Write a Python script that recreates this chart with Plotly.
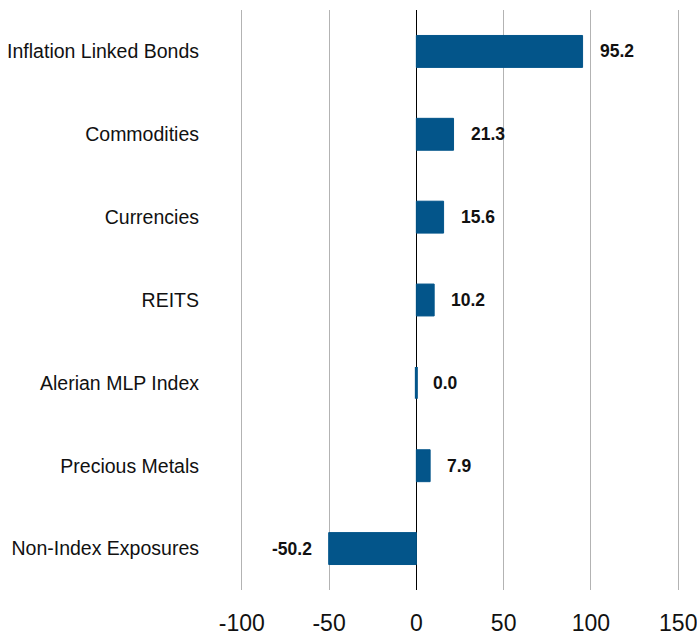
import plotly.graph_objects as go

categories = ["Inflation Linked Bonds", "Commodities", "Currencies", "REITS",
              "Alerian MLP Index", "Precious Metals", "Non-Index Exposures"]
values = [95.2, 21.3, 15.6, 10.2, 0.0, 7.9, -50.2]
tick_vals = [-100, -50, 0, 50, 100, 150]
tick_text = ["-100", "-50", "0", "50", "100", "150"]

FONT = "Liberation Sans, Arial, sans-serif"
BAR = "#03558A"

fig = go.Figure()
fig.add_trace(go.Bar(
    y=categories, x=values, orientation="h",
    marker=dict(color=BAR, line=dict(color=BAR, width=[3 if v == 0 else 1 for v in values])),
    width=0.385, hoverinfo="x+y",
))

for c, v in zip(categories, values):
    fig.add_annotation(
        x=v, y=c, text=f"<b>{v:.1f}</b>", showarrow=False,
        xanchor="right" if v < 0 else "left",
        xshift=-15 if v < 0 else 15,
        font=dict(family=FONT, size=17.5, color="#111111"),
    )

fig.update_layout(
    width=697, height=638,
    margin=dict(l=240, r=17, t=10, b=48),
    paper_bgcolor="white", plot_bgcolor="white",
    showlegend=False,
    font=dict(family=FONT, color="#111111"),
    xaxis=dict(
        range=[-101, 151], tickvals=tick_vals, ticktext=tick_text,
        showgrid=True, gridcolor="#b3b3b3", gridwidth=1,
        zeroline=True, zerolinecolor="#000000", zerolinewidth=1,
        showline=False, ticks="", tickfont=dict(size=23, family=FONT),
        ticklabelstandoff=17, ticklabeloverflow="allow", automargin=False,
        fixedrange=True,
    ),
    yaxis=dict(
        categoryorder="array", categoryarray=categories[::-1],
        showgrid=False, zeroline=False, showline=False, ticks="",
        tickfont=dict(size=19.5, family=FONT),
        ticklabelstandoff=40, automargin=False, fixedrange=True,
    ),
)

fig.write_html(
    "out.html",
    config={"displayModeBar": False},
    post_script="document.body.style.margin='0';document.body.style.overflow='hidden';",
)
